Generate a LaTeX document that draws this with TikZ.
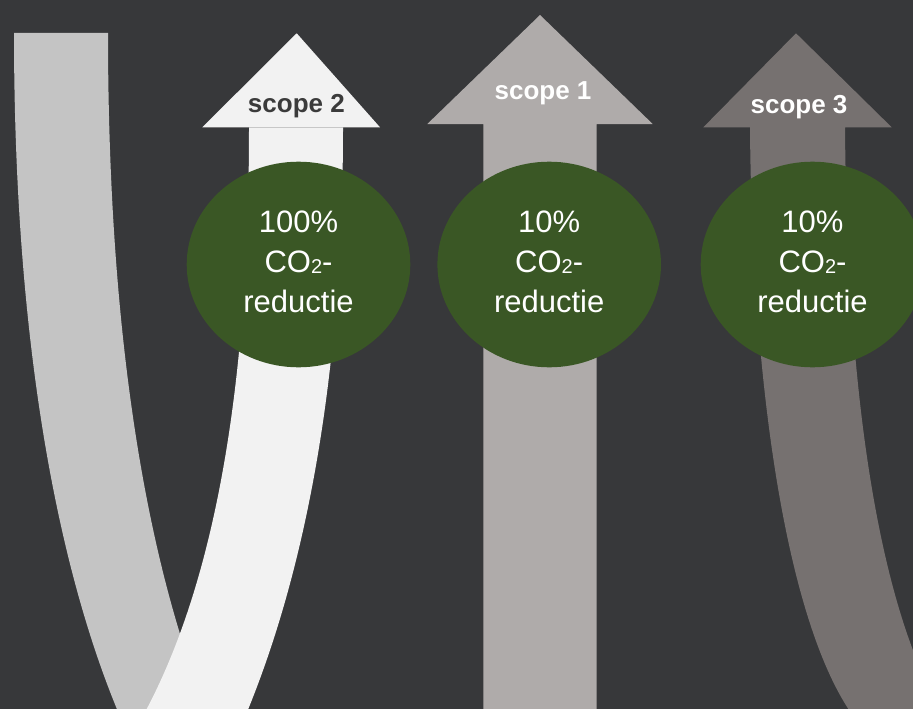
\documentclass[tikz,border=0pt]{standalone}
\usepackage{fontspec}
\setmainfont{Liberation Sans}
\usetikzlibrary{shapes.geometric}
\definecolor{bg}{HTML}{37383A}
\definecolor{backgray}{HTML}{C4C4C4}
\definecolor{frontwhite}{HTML}{F2F2F2}
\definecolor{scopeone}{HTML}{AFABAA}
\definecolor{scopethree}{HTML}{767170}
\definecolor{circgreen}{HTML}{3A5725}
\definecolor{darktext}{HTML}{3B3B3B}
\newcommand{\cotwo}{CO\raisebox{-1pt}{\fontsize{20}{20}\selectfont 2}-}
\begin{document}
\begin{tikzpicture}[x=1pt,y=-1pt,
  ctext/.style={text=white, align=center, font=\fontsize{31}{40}\selectfont, inner sep=0pt, anchor=north},
  slabel/.style={font=\bfseries\fontsize{26}{26}\selectfont, inner sep=0pt, anchor=base},
  co2circle/.style={ellipse, fill=circgreen, minimum width=223.6pt, minimum height=205.6pt, inner sep=0pt}]
\useasboundingbox (0,0) rectangle (913,709);
\fill[bg] (0,0) rectangle (913,709);
\begin{scope}
\clip (0,0) rectangle (913,709);
% scope 2: U-shaped arrow, back arm
\fill[backgray] (14,33) -- (108,33) .. controls (108,350) and (150,580) .. (215,730)
  -- (140,760) .. controls (60,600) and (14,350) .. (14,33) -- cycle;
% front arm
\fill[frontwhite] (249,127.3) -- (343,127.3) .. controls (343,300) and (325,540) .. (235,740)
  -- (135,730) .. controls (235,560) and (249,300) .. (249,127.3) -- cycle;
\fill[frontwhite] (202.3,127.3) -- (296.7,33.3) -- (380,127.3) -- cycle;
% scope 1: straight arrow
\fill[scopeone] (483.3,720) -- (483.3,124) -- (427.3,124) -- (540,15) -- (652.7,124)
  -- (596.7,124) -- (596.7,720) -- cycle;
% scope 3: curved arrow
\fill[scopethree] (750,127.3) .. controls (752,400) and (790,640) .. (860,725)
  -- (950,725) .. controls (880,620) and (847,400) .. (845,127.3)
  -- (891.7,127.3) -- (796,33.3) -- (703.3,127.3) -- cycle;
% circles
\node[co2circle] (c1) at (298.5,264.5) {};
\node[co2circle] (c2) at (549.2,264.5) {};
\node[co2circle] (c3) at (812.5,264.5) {};
\end{scope}
% labels
\node[slabel, text=darktext] (l2) at (296.4,112.7) {scope 2};
\node[slabel, text=white] (l1) at (543,99.3) {scope 1};
\node[slabel, text=white] (l3) at (799,113.3) {scope 3};
\node[ctext] (t1) at (298.5,210.2) {100\%\\\cotwo\\reductie};
\node[ctext] (t2) at (549.2,210.2) {10\%\\\cotwo\\reductie};
\node[ctext] (t3) at (812.5,210.2) {10\%\\\cotwo\\reductie};
\end{tikzpicture}
\end{document}
